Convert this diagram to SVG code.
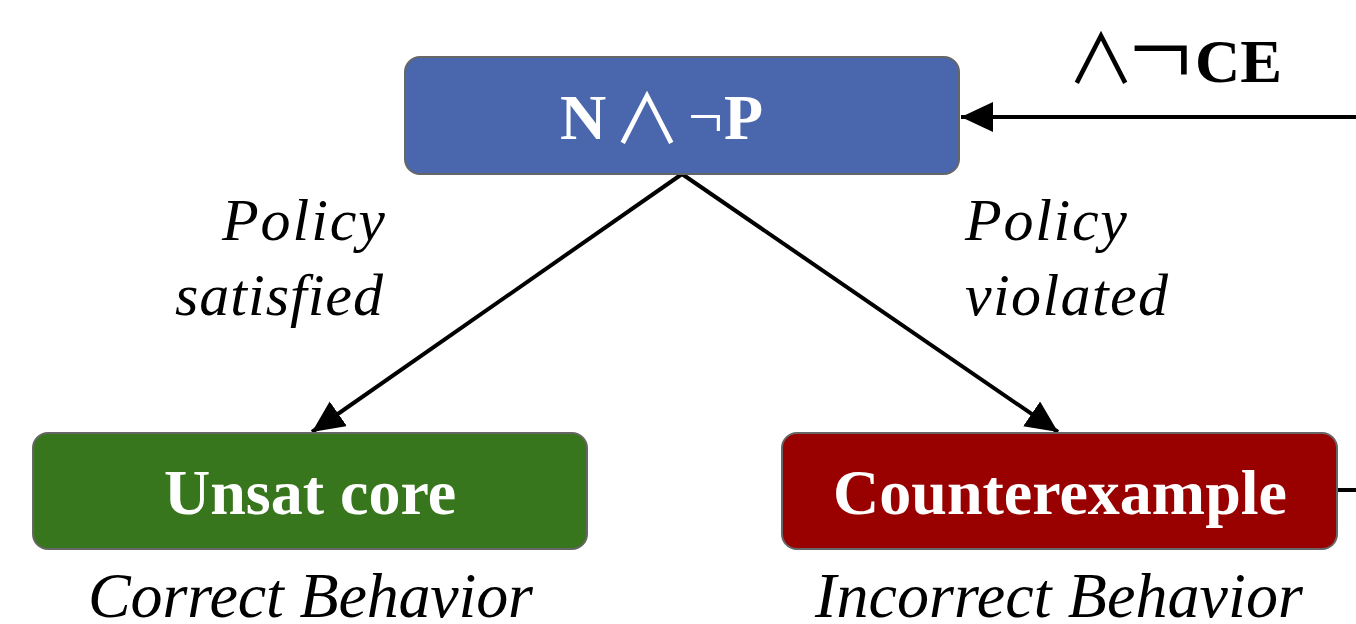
<svg xmlns="http://www.w3.org/2000/svg" width="1356" height="624" viewBox="0 0 1356 624">
<style>
.box{stroke:#666;stroke-width:2}
.bt{font-family:"Liberation Serif",serif;font-weight:bold;fill:#fff;font-size:64px;text-anchor:middle}
.it{font-family:"Liberation Serif",serif;font-style:italic;fill:#000;font-size:60px}
.ib{font-family:"Liberation Serif",serif;font-style:italic;fill:#000;font-size:64px}
.wedge{font-family:"Noto Sans CJK SC","DejaVu Sans",sans-serif;font-weight:normal}
.neg{font-family:"Liberation Serif",serif;font-weight:normal}
.ln{stroke:#000;stroke-width:4;fill:none}
</style>
<defs>
<marker id="ah" markerUnits="userSpaceOnUse" markerWidth="34" markerHeight="30" refX="32" refY="15" orient="auto">
<path d="M0,0 L32,15 L0,30 Z" fill="#000"/>
</marker>
</defs>
<g id="connectors">
<line class="ln" x1="682" y1="174" x2="312" y2="432" marker-end="url(#ah)"/>
<line class="ln" x1="682" y1="174" x2="1058" y2="432" marker-end="url(#ah)"/>
<line class="ln" x1="1356" y1="117" x2="961" y2="117" marker-end="url(#ah)"/>
<line class="ln" x1="1337" y1="490" x2="1356" y2="490"/>
<text style="fill:#000"><tspan class="wedge" x="1067" y="84" font-size="68">∧</tspan><tspan class="neg" x="1129" y="86" font-size="112">¬</tspan><tspan x="1195" y="82" font-size="62" font-weight="bold" font-family="Liberation Serif, serif" textLength="87" lengthAdjust="spacingAndGlyphs">CE</tspan></text>
<text class="it" x="385" y="240" text-anchor="end" textLength="163" lengthAdjust="spacing">Policy</text>
<text class="it" x="383" y="315" text-anchor="end" textLength="208" lengthAdjust="spacing">satisfied</text>
<text class="it" x="965" y="240" textLength="162" lengthAdjust="spacing">Policy</text>
<text class="it" x="965" y="315" textLength="203" lengthAdjust="spacing">violated</text>
</g>
<g id="top">
<rect class="box" x="405" y="57" width="554" height="117" rx="15" fill="#4a67ae"/>
<text style="fill:#fff"><tspan x="560" y="139" font-family="Liberation Serif, serif" font-weight="bold" font-size="64">N</tspan><tspan class="wedge" x="613" y="144" font-size="68">∧</tspan><tspan class="neg" x="688" y="137" font-size="62">¬</tspan><tspan x="724" y="139" font-family="Liberation Serif, serif" font-weight="bold" font-size="64">P</tspan></text>
</g>
<g id="unsat">
<rect class="box" x="33" y="433" width="554" height="116" rx="15" fill="#38761d"/>
<text class="bt" x="310" y="514">Unsat core</text>
<text class="ib" x="88" y="617" textLength="445" lengthAdjust="spacing">Correct Behavior</text>
</g>
<g id="cex">
<rect class="box" x="782" y="433" width="555" height="116" rx="15" fill="#990000"/>
<text class="bt" x="1060" y="514">Counterexample</text>
<text class="ib" x="815" y="617" textLength="488" lengthAdjust="spacing">Incorrect Behavior</text>
</g>
</svg>
